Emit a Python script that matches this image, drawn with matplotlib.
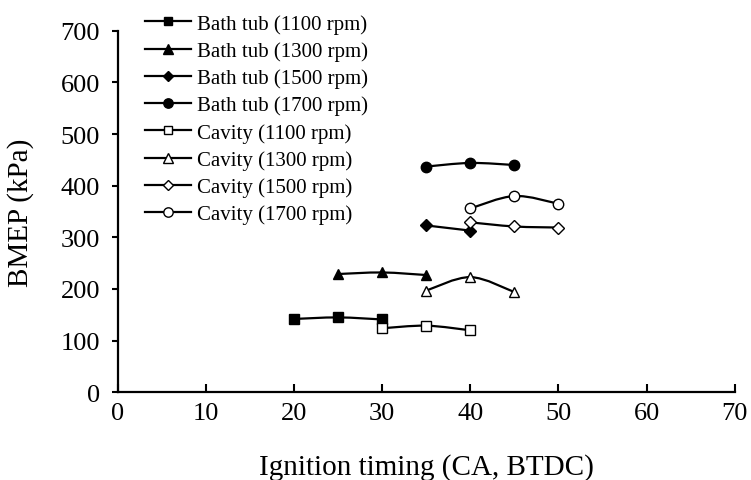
import numpy as np
import matplotlib
matplotlib.use("Agg")
import matplotlib.pyplot as plt
from matplotlib.path import Path
from matplotlib.patches import PathPatch
from matplotlib.lines import Line2D

plt.rcParams['font.family'] = ['Liberation Serif', 'DejaVu Serif']

# Ignition timing (CA, BTDC) and BMEP (kPa) for each chamber / engine speed
bath_1100_x = [20, 25, 30]
bath_1100_y = [142, 145, 141]
bath_1300_x = [25, 30, 35]
bath_1300_y = [229, 232, 227]
bath_1500_x = [35, 40]
bath_1500_y = [323, 313]
bath_1700_x = [35, 40, 45]
bath_1700_y = [437, 444, 440]

cav_1100_x = [30, 35, 40]
cav_1100_y = [124, 129, 120]
cav_1300_x = [35, 40, 45]
cav_1300_y = [197, 223, 194]
cav_1500_x = [40, 45, 50]
cav_1500_y = [329, 321, 319]
cav_1700_x = [40, 45, 50]
cav_1700_y = [356, 380, 365]

labels = ["Bath tub (1100 rpm)", "Bath tub (1300 rpm)", "Bath tub (1500 rpm)",
          "Bath tub (1700 rpm)", "Cavity (1100 rpm)", "Cavity (1300 rpm)",
          "Cavity (1500 rpm)", "Cavity (1700 rpm)"]

series = [
    (bath_1100_x, bath_1100_y, 's', 'black'),
    (bath_1300_x, bath_1300_y, '^', 'black'),
    (bath_1500_x, bath_1500_y, 'D', 'black'),
    (bath_1700_x, bath_1700_y, 'o', 'black'),
    (cav_1100_x, cav_1100_y, 's', 'white'),
    (cav_1300_x, cav_1300_y, '^', 'white'),
    (cav_1500_x, cav_1500_y, 'D', 'white'),
    (cav_1700_x, cav_1700_y, 'o', 'white'),
]
marker_sizes = {'s': 7, '^': 7.5, 'D': 5.8, 'o': 7.5}


def smooth_path(xs, ys):
    """Cubic Bezier path through the points (Catmull-Rom style smoothing)."""
    pts = np.column_stack([xs, ys]).astype(float)
    n = len(pts)
    verts = [pts[0]]
    codes = [Path.MOVETO]
    for i in range(n - 1):
        p0 = pts[i - 1] if i > 0 else pts[i]
        p1 = pts[i]
        p2 = pts[i + 1]
        p3 = pts[i + 2] if i + 2 < n else pts[i + 1]
        c1 = p1 + (p2 - p0) / 6.0
        c2 = p2 - (p3 - p1) / 6.0
        verts += [c1, c2, p2]
        codes += [Path.CURVE4] * 3
    return Path(verts, codes)


fig = plt.figure(figsize=(7.51, 4.81), dpi=100)
ax = fig.add_axes([0.1571, 0.1823, 0.8212, 0.7518])

handles = []
for (xs, ys, m, fc), lab in zip(series, labels):
    ax.add_patch(PathPatch(smooth_path(xs, ys), facecolor='none',
                           edgecolor='black', lw=1.6, zorder=2))
    ax.plot(xs, ys, linestyle='none', marker=m, markersize=marker_sizes[m],
            markerfacecolor=fc, markeredgecolor='black', markeredgewidth=1.0,
            zorder=3)
    handles.append(Line2D([], [], color='black', lw=1.6, marker=m,
                          markersize=marker_sizes[m] * 0.9,
                          markerfacecolor=fc, markeredgecolor='black',
                          markeredgewidth=1.0))

ax.set_xlim(0, 70)
ax.set_ylim(0, 700)
ax.set_xticks(range(0, 71, 10))
ax.set_yticks(range(0, 701, 100))
for side in ['top', 'right']:
    ax.spines[side].set_visible(False)
for side in ['left', 'bottom']:
    ax.spines[side].set_linewidth(1.6)
ax.tick_params(axis='x', direction='in', length=6, width=1.5, labelsize=19, pad=7)
ax.tick_params(axis='y', direction='out', length=4, width=1.5, labelsize=19, pad=9)

ax.set_xlabel("Ignition timing (CA, BTDC)", fontsize=21, labelpad=21)
ax.set_ylabel("BMEP (kPa)", fontsize=21, labelpad=19)

leg = fig.legend(handles, labels, loc='upper left',
                 bbox_to_anchor=(145 / 751, 1 - 15 / 481), frameon=False,
                 fontsize=15, handlelength=2.2, handletextpad=0.3,
                 labelspacing=0.36, borderaxespad=0, borderpad=0)

fig.savefig("out.png", dpi=100)
